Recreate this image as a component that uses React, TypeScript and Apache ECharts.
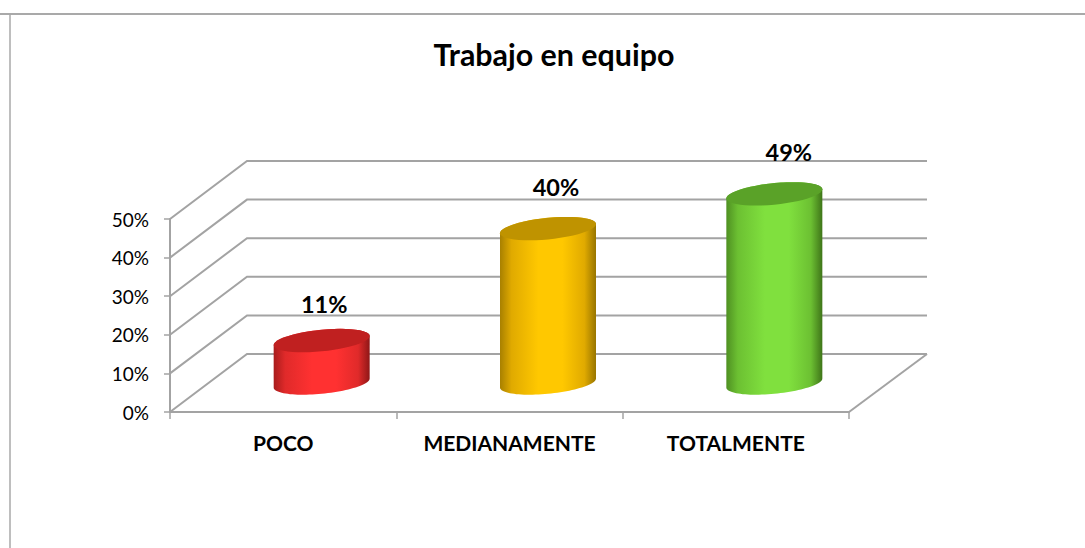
import React, { useEffect, useRef } from "react";
import * as echarts from "echarts";

const categories = ["POCO", "MEDIANAMENTE", "TOTALMENTE"];
const values = [11, 40, 49];
const yTicks = [0, 10, 20, 30, 40, 50];
const titleText = "Trabajo en equipo";
const palette = [
  { edgeL: "#a81c1c", soft: "#e02a2a", mid: "#ff3131", edgeR: "#8f1717", top: "#c02020" },
  { edgeL: "#a88000", soft: "#e0aa00", mid: "#ffc800", edgeR: "#987500", top: "#bf9300" },
  { edgeL: "#4f9022", soft: "#6cc032", mid: "#80e03e", edgeR: "#3f7519", top: "#5aa228" },
];
const labelShiftX = [2.5, 8, 14.5];
const labelShiftY = [-37, -41.8, -42];

const DEPTH_X = 77;
const DEPTH_Y = 58;
const GRID = { left: 170, top: 219, width: 679, height: 193 };
const RX = 48;
const RY = 10.8;
const SHEAR = 0.095;
const LINE = "#a3a3a3";
const FONT = "Lato, Carlito, 'Open Sans', sans-serif";

function ellipsePoint(cx: number, cy: number, t: number) {
  const dx = RX * Math.cos(t);
  const dy = RY * Math.sin(t) - SHEAR * dx;
  return [cx + dx, cy + dy];
}

function arc(cx: number, cy: number, from: number, to: number) {
  const pts: number[][] = [];
  const n = 48;
  for (let i = 0; i <= n; i++) pts.push(ellipsePoint(cx, cy, from + ((to - from) * i) / n));
  return pts;
}

function renderWall(params: any, api: any) {
  const cs = params.coordSys;
  const y = api.coord([0, api.value(1)])[1];
  const x0 = cs.x;
  const x1 = cs.x + cs.width;
  const style = { stroke: LINE, fill: "none", lineWidth: 2 };
  const children: any[] = [
    {
      type: "polyline",
      shape: { points: [[x0, y], [x0 + DEPTH_X, y - DEPTH_Y], [x1 + DEPTH_X + 1, y - DEPTH_Y]] },
      style,
    },
  ];
  if (api.value(1) === 0) {
    children.push({
      type: "line",
      shape: { x1, y1: y, x2: x1 + DEPTH_X + 1, y2: y - DEPTH_Y },
      style,
    });
  }
  return { type: "group", children };
}

function renderBar(params: any, api: any) {
  const i = params.dataIndex;
  const c = palette[i];
  const base = api.coord([api.value(0), 0]);
  const top = api.coord([api.value(0), api.value(1)]);
  const cx = base[0] + DEPTH_X / 2;
  const by = base[1] - DEPTH_Y / 2;
  const ty = top[1] - DEPTH_Y / 2;
  const sidePts = [...arc(cx, by, 0, Math.PI), ...arc(cx, ty, Math.PI, 2 * Math.PI)];
  return {
    type: "group",
    children: [
      {
        type: "polygon",
        shape: { points: sidePts },
        style: {
          fill: new echarts.graphic.LinearGradient(0, 0, 1, 0, [
            { offset: 0, color: c.edgeL },
            { offset: 0.12, color: c.soft },
            { offset: 0.4, color: c.mid },
            { offset: 0.65, color: c.mid },
            { offset: 0.88, color: c.soft },
            { offset: 1, color: c.edgeR },
          ]),
        },
      },
      {
        type: "polygon",
        shape: { points: arc(cx, ty, 0, 2 * Math.PI) },
        style: { fill: c.top },
      },
      {
        type: "text",
        style: {
          x: cx + labelShiftX[i],
          y: ty + labelShiftY[i],
          text: api.value(1) + "%",
          fill: "#000",
          font: `bold 23.5px ${FONT}`,
          align: "center",
          verticalAlign: "middle",
        },
      },
    ],
  };
}

export default function App() {
  const ref = useRef<HTMLDivElement>(null);
  useEffect(() => {
    document.body.style.margin = "0";
    const chart = echarts.init(ref.current!, undefined, { renderer: "svg" });
    chart.setOption({
      animation: false,
      backgroundColor: "#fff",
      title: {
        text: titleText,
        left: 549,
        top: 34,
        textAlign: "center",
        textStyle: { fontFamily: FONT, fontSize: 30.4, fontWeight: "bold", color: "#000" },
      },
      grid: GRID,
      xAxis: {
        type: "category",
        data: categories,
        axisLine: { lineStyle: { color: LINE, width: 2 } },
        axisTick: { show: true, length: 7, lineStyle: { color: LINE, width: 1.5 } },
        axisLabel: {
          color: "#000",
          fontFamily: FONT,
          fontWeight: "bold",
          fontSize: 21,
          margin: 20,
          interval: 0,
        },
      },
      yAxis: {
        type: "value",
        min: 0,
        max: 50,
        interval: 10,
        splitLine: { show: false },
        axisLine: { show: true, lineStyle: { color: LINE, width: 2 } },
        axisTick: { show: true, length: 6, lineStyle: { color: LINE, width: 1.5 } },
        axisLabel: {
          color: "#000",
          fontFamily: FONT,
          fontSize: 19,
          margin: 21,
          padding: [3, 0, 0, 0],
          formatter: "{value}%",
        },
      },
      graphic: [
        {
          type: "line",
          shape: { x1: 0, y1: 14, x2: 1085, y2: 14 },
          style: { stroke: "#8c8c8c", lineWidth: 1.5 },
          silent: true,
        },
        {
          type: "line",
          shape: { x1: 10, y1: 14, x2: 10, y2: 548 },
          style: { stroke: "#a8a8a8", lineWidth: 1.5 },
          silent: true,
        },
      ],
      series: [
        {
          type: "custom",
          renderItem: renderWall,
          data: yTicks.map((t) => [0, t]),
          encode: { x: 0, y: 1 },
          z: 1,
          silent: true,
        },
        {
          type: "custom",
          renderItem: renderBar,
          data: values.map((v, i) => [i, v]),
          encode: { x: 0, y: 1 },
          z: 3,
          silent: true,
        },
      ],
    });
    return () => chart.dispose();
  }, []);
  return <div ref={ref} style={{ width: 1085, height: 548 }} />;
}
